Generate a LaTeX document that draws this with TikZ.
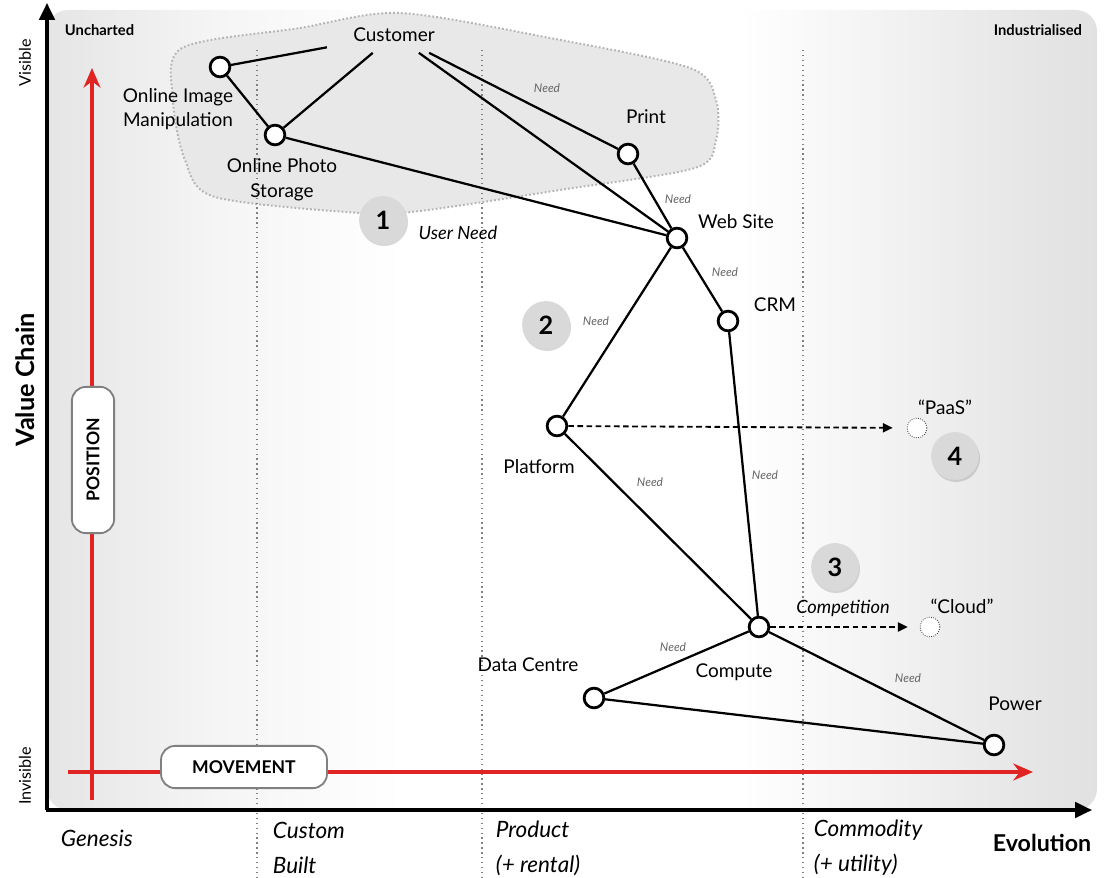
\documentclass[tikz,border=0pt]{standalone}
\usepackage{fontspec}
\setmainfont{Lato}
\usetikzlibrary{arrows.meta,shadows}
\definecolor{movered}{HTML}{E02424}
\pgfdeclarehorizontalshading{evolution}{100bp}{color(0bp)=(black!27); color(10bp)=(black!21); color(20bp)=(black!14); color(33bp)=(black!4); color(42bp)=(white); color(58bp)=(white); color(72bp)=(black!10); color(90bp)=(black!20); color(100bp)=(black!28)}
\pgfdeclarelayer{bg}
\pgfdeclarelayer{edges}
\pgfsetlayers{bg,edges,main}
\begin{document}
\begin{tikzpicture}[x=0.025cm, y=-0.025cm,
  comp/.style={circle, draw, fill=white, line width=2pt, minimum size=14pt, inner sep=0pt},
  ghost/.style={circle, draw=black!75, densely dotted, fill=white, line width=0.6pt, minimum size=14pt, inner sep=0pt},
  link/.style={line width=1.6pt},
  evolve/.style={line width=1.3pt, dash pattern=on 4pt off 2.5pt, -{Triangle[length=7pt,width=6.5pt]}},
  lbl/.style={font=\fontsize{13.5}{17.5}\selectfont, align=center},
  need/.style={font=\fontsize{8.5}{10}\selectfont\itshape, text=black!60},
  note/.style={font=\fontsize{13}{15}\selectfont\itshape},
  badge/.style={circle, fill=black!15, minimum size=34pt, inner sep=0pt, font=\fontsize{18}{20}\selectfont\bfseries, drop shadow={opacity=0.3, shadow xshift=0.8pt, shadow yshift=-1.5pt}},
  stage/.style={draw=black!50, line width=0.9pt, dash pattern=on 0.9pt off 2.6pt},
  stagelbl/.style={font=\fontsize{16}{25}\selectfont\itshape, align=left, anchor=west},
  axis/.style={line width=2.2pt, -{Triangle[length=12pt,width=11pt]}},
  drift/.style={draw=movered, line width=3pt, -{Stealth[length=14pt,width=12pt]}},
  tag/.style={draw=black!50, line width=1.3pt, fill=white, rounded corners=10pt, inner sep=0pt, font=\fontsize{12.5}{14}\selectfont\bfseries},
  corner/.style={font=\fontsize{10.5}{12}\selectfont\bfseries},
  ]
\useasboundingbox (0,0) rectangle (1105,878);

% background and user need region
\begin{pgfonlayer}{bg}
\shade[shading=evolution, rounded corners=15] (47,10) rectangle (1097,810);
\path[fill=black!9, draw=black!30, line width=1.4pt, dash pattern=on 1.2pt off 1.6pt]
  plot[smooth cycle, tension=0.5] coordinates {(182,48) (300,28) (400,13) (550,38) (690,68) (716,100) (716,140) (695,168) (560,190) (420,211) (360,213) (215,197) (185,160) (173,100)};
% stages of evolution
\foreach \x in {257,482,803}
	\draw[stage] (\x,50) -- (\x,878);
\end{pgfonlayer}

% axes
\coordinate (o) at (47,810);
\coordinate (ytop) at (47,3);
\coordinate (xend) at (1092,810);
\draw[axis] (o) -- (ytop);
\draw[axis] ([xshift=-1pt]o) -- (xend);
\coordinate (pbot) at (92,800);
\coordinate (ptop) at (92,68);
\coordinate (mleft) at (68,772);
\coordinate (mright) at (1033,772);
\draw[drift] (pbot) -- (ptop);
\draw[drift] (mleft) -- (mright);
\node[tag, rotate=90, minimum width=104pt, minimum height=30pt] (position) at (93,460) {POSITION};
\node[tag, minimum width=118pt, minimum height=30pt] (movement) at (244,767) {MOVEMENT};

\node[font=\fontsize{11.5}{12}\selectfont, rotate=90] (visible) at (25,63) {Visible};
\node[font=\fontsize{11.5}{12}\selectfont, rotate=90] (invisible) at (25,776) {Invisible};
\node[font=\fontsize{18}{20}\selectfont\bfseries, rotate=90] (chain) at (25,380) {Value Chain};
\node[corner, anchor=west] (uncharted) at (60,30) {Uncharted};
\node[corner, anchor=east] (industrial) at (1087,30) {Industrialised};
\node[font=\fontsize{16.5}{18}\selectfont\bfseries] (evolution) at (1042,843) {Evolution};
\node[stagelbl] (genesis) at (56,838) {Genesis};
\node[stagelbl] (custom) at (268,848) {Custom\\Built};
\node[stagelbl] (product) at (491,848) {Product\\(+ rental)};
\node[stagelbl] (commodity) at (809,848) {Commodity\\(+ utility)};

% components
\node[lbl, minimum width=95pt, minimum height=25pt] (cust) at (394,35) {Customer};
\node[comp] (oim) at (220,67) {};
\node[comp] (ops) at (275,135) {};
\node[comp] (print) at (628,154) {};
\node[comp] (web) at (677,238) {};
\node[comp] (crm) at (728,321) {};
\node[comp] (plat) at (557,426) {};
\node[comp] (comp) at (759,627) {};
\node[comp] (dc) at (594,698) {};
\node[comp] (power) at (994,745) {};
\node[ghost] (paas) at (917,428) {};
\node[ghost] (cloud) at (930,627) {};

\begin{pgfonlayer}{edges}
\draw[link] (oim) -- (cust);
\draw[link] (oim) -- (ops);
\draw[link] (ops) -- (cust);
\draw[link] (ops) -- (web);
\draw[link] (cust) -- (web);
\draw[link] (cust) -- (print);
\draw[link] (print) -- (web);
\draw[link] (web) -- (crm);
\draw[link] (web) -- (plat);
\draw[link] (plat) -- (comp);
\draw[link] (crm) -- (comp);
\draw[link] (comp) -- (dc);
\draw[link] (comp) -- (power);
\draw[link] (dc) -- (power);
\draw[evolve, shorten >=10pt] (plat) -- (paas);
\draw[evolve, shorten >=8.5pt] (comp) -- (cloud);
\end{pgfonlayer}

% labels
\node[lbl] (oimlbl) at (178,109) {Online Image\\Manipulation};
\node[lbl] (opslbl) at (282,180) {Online Photo\\Storage};
\node[lbl] (printlbl) at (646,117) {Print};
\node[lbl] (weblbl) at (736,222) {Web Site};
\node[lbl] (crmlbl) at (775,305) {CRM};
\node[lbl] (platlbl) at (539,467) {Platform};
\node[lbl] (complbl) at (734,672) {Compute};
\node[lbl] (dclbl) at (528,665) {Data Centre};
\node[lbl] (powerlbl) at (1015,704) {Power};
\node[lbl] (paaslbl) at (945,407) {``PaaS''};
\node[lbl] (cloudlbl) at (962,606) {``Cloud''};

\node[need] at (547,88) {Need};
\node[need] at (678,199) {Need};
\node[need] at (725,272) {Need};
\node[need] at (596,321) {Need};
\node[need] at (650,482) {Need};
\node[need] at (765,475) {Need};
\node[need] at (673,647) {Need};
\node[need] at (908,678) {Need};

\node[note] (userneed) at (458,233) {User Need};
\node[note] (competition) at (843,608) {Competition};

% numbered points
\node[badge] (b1) at (383,220) {1};
\node[badge] (b2) at (546,325) {2};
\node[badge] (b3) at (835,567) {3};
\node[badge] (b4) at (955,456) {4};
\end{tikzpicture}
\end{document}
